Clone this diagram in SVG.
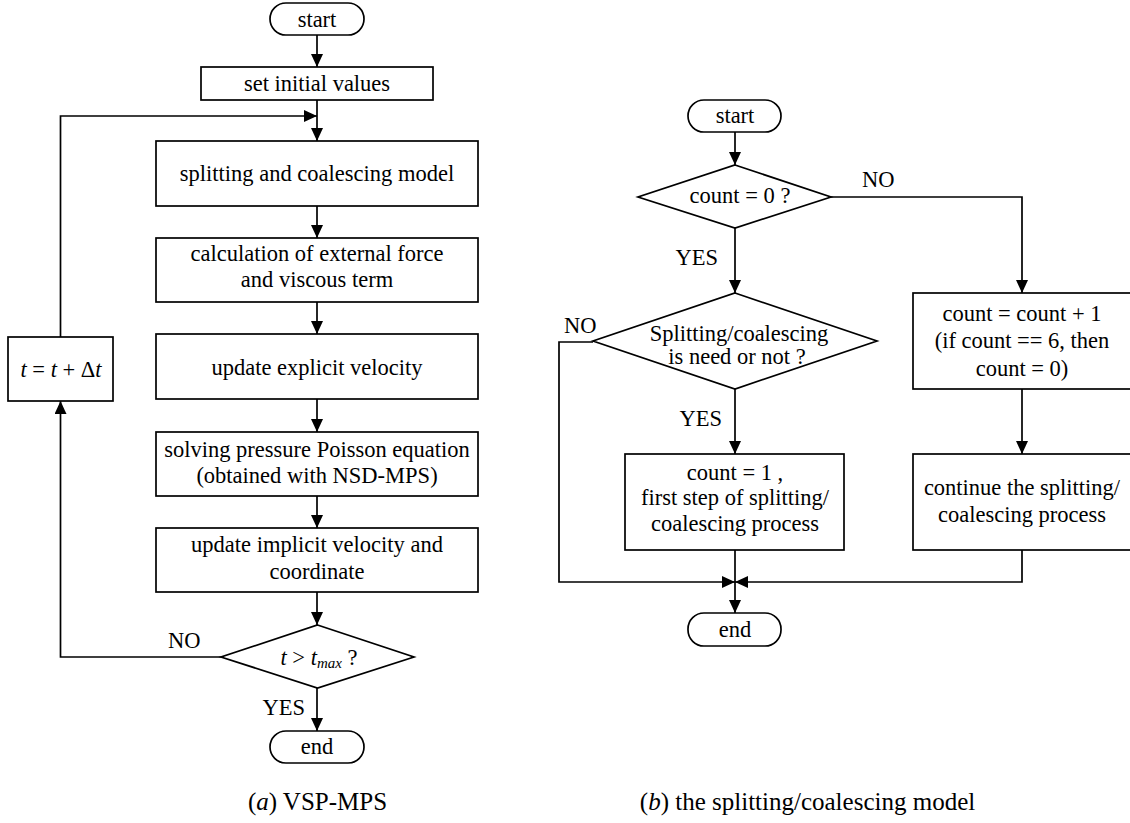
<svg xmlns="http://www.w3.org/2000/svg" width="1130" height="823" viewBox="0 0 1130 823" font-family="'Liberation Serif', 'DejaVu Serif', serif">
<style>
.n{fill:#fff;stroke:#000;stroke-width:1.7}
.c{fill:none;stroke:#000;stroke-width:1.7}
text{font-family:'Liberation Serif','DejaVu Serif',serif;font-size:22.5px;fill:#000}
.m{text-anchor:middle}
.i{font-style:italic}
.cap{font-size:25px}
</style>
<defs>
<marker id="ah" markerUnits="userSpaceOnUse" markerWidth="14" markerHeight="12" refX="13" refY="6" orient="auto">
<path d="M0,0 L13,6 L0,12 z" fill="#000"/>
</marker>
</defs>
<g id="connectors">
<path class="c" d="M317,35 V67" marker-end="url(#ah)"/>
<path class="c" d="M317,100 V141" marker-end="url(#ah)"/>
<path class="c" d="M60.5,337 V116 H317" marker-end="url(#ah)"/>
<path class="c" d="M317,206 V238" marker-end="url(#ah)"/>
<path class="c" d="M317,302 V334" marker-end="url(#ah)"/>
<path class="c" d="M317,399 V432" marker-end="url(#ah)"/>
<path class="c" d="M317,496 V528" marker-end="url(#ah)"/>
<path class="c" d="M317,592 V625" marker-end="url(#ah)"/>
<path class="c" d="M317,688 V731" marker-end="url(#ah)"/>
<path class="c" d="M221,657 H60.5 V401" marker-end="url(#ah)"/>
<path class="c" d="M735,132 V165" marker-end="url(#ah)"/>
<path class="c" d="M735,228 V293" marker-end="url(#ah)"/>
<path class="c" d="M831,197 H1022 V293" marker-end="url(#ah)"/>
<path class="c" d="M1022,389 V454" marker-end="url(#ah)"/>
<path class="c" d="M735,389 V454" marker-end="url(#ah)"/>
<path class="c" d="M593,342 H559 V582 H735" marker-end="url(#ah)"/>
<path class="c" d="M1022,550 V582 H735" marker-end="url(#ah)"/>
<path class="c" d="M735,550 V613" marker-end="url(#ah)"/>
<text x="168" y="648">NO</text>
<text x="305" y="715" text-anchor="end">YES</text>
<text x="862" y="187">NO</text>
<text x="718" y="265" text-anchor="end">YES</text>
<text x="564" y="333">NO</text>
<text x="722" y="426" text-anchor="end">YES</text>
</g>
<g id="a-start"><rect class="n" x="270" y="3" width="94" height="32" rx="16"/><text class="m" x="317" y="27">start</text></g>
<g id="a-init"><rect class="n" x="201" y="67" width="232" height="33"/><text class="m" x="317" y="91">set initial values</text></g>
<g id="a-split"><rect class="n" x="156" y="141" width="322" height="65"/><text class="m" x="317" y="181">splitting and coalescing model</text></g>
<g id="a-calc"><rect class="n" x="156" y="238" width="322" height="64"/><text class="m" x="317" y="261">calculation of external force</text><text class="m" x="317" y="287">and viscous term</text></g>
<g id="a-explicit"><rect class="n" x="156" y="334" width="322" height="65"/><text class="m" x="317" y="375">update explicit velocity</text></g>
<g id="a-poisson"><rect class="n" x="156" y="432" width="322" height="64"/><text class="m" x="317" y="457">solving pressure Poisson equation</text><text class="m" x="317" y="483">(obtained with NSD-MPS)</text></g>
<g id="a-implicit"><rect class="n" x="156" y="528" width="322" height="64"/><text class="m" x="317" y="552">update implicit velocity and</text><text class="m" x="317" y="579">coordinate</text></g>
<g id="a-cond"><polygon class="n" points="317.5,625 414,657 317.5,688 221,657"/><text class="m" x="319" y="665"><tspan class="i">t</tspan> &gt; <tspan class="i">t</tspan><tspan class="i" font-size="15" dy="3">max</tspan><tspan dy="-3"> ?</tspan></text></g>
<g id="a-end"><rect class="n" x="270" y="731" width="94" height="32" rx="16"/><text class="m" x="317" y="754">end</text></g>
<g id="a-step"><rect class="n" x="8" y="337" width="105" height="64"/><text class="m" x="61" y="377"><tspan class="i">t</tspan> = <tspan class="i">t</tspan> + Δ<tspan class="i">t</tspan></text></g>
<g id="b-start"><rect class="n" x="688" y="100" width="93" height="32" rx="16"/><text class="m" x="735" y="123">start</text></g>
<g id="b-cond1"><polygon class="n" points="735,165 831,197 735,228 638,197"/><text class="m" x="740" y="203">count = 0 ?</text></g>
<g id="b-cond2"><polygon class="n" points="735,293 877,341 735,389 593,341"/><text class="m" x="739" y="341">Splitting/coalescing</text><text class="m" x="737" y="364">is need or not ?</text></g>
<g id="b-first"><rect class="n" x="625" y="454" width="219" height="96"/><text class="m" x="735" y="480">count = 1 ,</text><text class="m" x="735" y="505">first step of splitting/</text><text class="m" x="735" y="531">coalescing process</text></g>
<g id="b-inc"><rect class="n" x="913" y="293" width="218" height="96"/><text class="m" x="1022" y="321">count = count + 1</text><text class="m" x="1022" y="348">(if count == 6, then</text><text class="m" x="1022" y="376">count = 0)</text></g>
<g id="b-cont"><rect class="n" x="913" y="454" width="218" height="96"/><text class="m" x="1022" y="495">continue the splitting/</text><text class="m" x="1022" y="522">coalescing process</text></g>
<g id="b-end"><rect class="n" x="688" y="613" width="93" height="33" rx="16"/><text class="m" x="735" y="637">end</text></g>
<g id="captions">
<text class="m cap" x="317.5" y="810">(<tspan class="i">a</tspan>) VSP-MPS</text>
<text class="m cap" x="807.5" y="810">(<tspan class="i">b</tspan>) the splitting/coalescing model</text>
</g>
</svg>
